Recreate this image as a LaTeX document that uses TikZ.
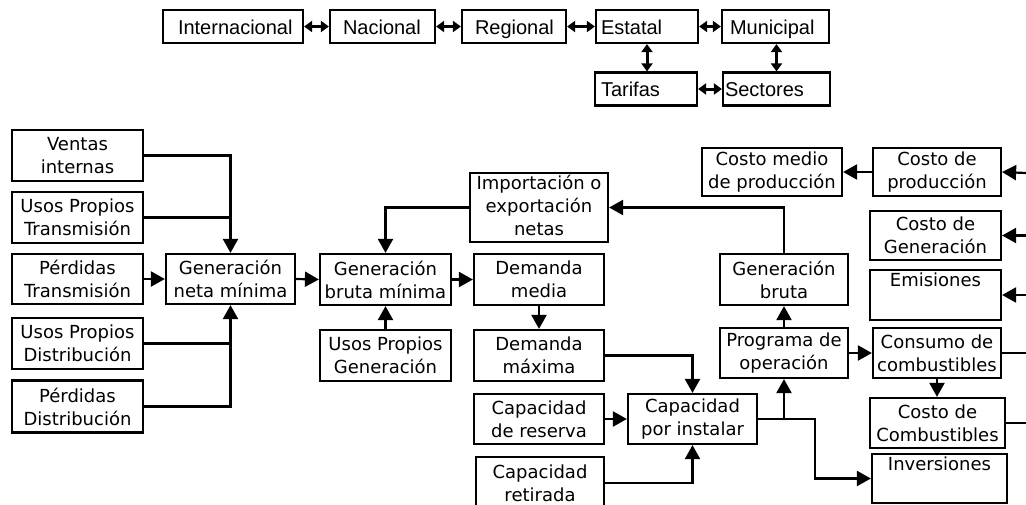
\documentclass[tikz,border=0pt]{standalone}
\usepackage{fontspec}
\newfontfamily\dvfont{DejaVu Sans}
\newfontfamily\libfont{Liberation Sans}
\usetikzlibrary{arrows.meta}
\newcommand{\tbtext}[3]{\makebox[#1][l]{\hspace*{#2}\raisebox{-7.5pt}[0pt][0pt]{#3}}}
\begin{document}
\begin{tikzpicture}[x=1pt,y=-1pt,
 bx/.style={draw, line width=2.2pt, inner sep=0pt, align=center, font=\dvfont\fontsize{18}{23}\selectfont},
 tb/.style={draw, line width=2.2pt, inner sep=0pt, minimum height=33pt, font=\libfont\fontsize{20}{22}\selectfont},
 arr/.style={line width=2.2pt, -{Triangle[length=14pt,width=15pt]}},
 ln/.style={line width=2.2pt},
 dbl/.style={line width=3pt, {Triangle[length=8pt,width=11pt]}-{Triangle[length=8pt,width=11pt]}},
]
\useasboundingbox[fill=white] (0,0) rectangle (1026,504);

% top row
\node[tb] (intl) at (233,26.5) {\tbtext{140pt}{15pt}{Internacional}};
\node[tb] (nac) at (382.5,26.5) {\tbtext{105pt}{13pt}{Nacional}};
\node[tb] (reg) at (514,26.5) {\tbtext{104pt}{13pt}{Regional}};
\node[tb] (est) at (647,26.5) {\tbtext{102pt}{5pt}{Estatal}};
\node[tb] (mun) at (775.5,26.5) {\tbtext{107pt}{8pt}{Municipal}};
\node[tb] (tar) at (646,89) {\tbtext{102pt}{6pt}{Tarifas}};
\node[tb] (sec) at (776.5,89) {\tbtext{107pt}{2pt}{Sectores}};

\draw[dbl] (intl.east) -- (nac.west);
\draw[dbl] (nac.east) -- (reg.west);
\draw[dbl] (reg.east) -- (est.west);
\draw[dbl] (est.east) -- (mun.west);
\draw[dbl] (tar.east) -- (sec.west);
\draw[dbl] (est.south) -- (est.south |- tar.north);
\draw[dbl] (sec.north |- mun.south) -- (sec.north);

% left column
\node[bx, minimum width=131pt, minimum height=51pt] (ven) at (77.5,155.5) {Ventas\\internas};
\node[bx, minimum width=131pt, minimum height=51pt] (upt) at (77.5,217.5) {Usos Propios\\Transmisión};
\node[bx, minimum width=131pt, minimum height=50pt] (pt) at (77.5,279) {Pérdidas\\Transmisión};
\node[bx, minimum width=131pt, minimum height=51pt] (upd) at (77.5,343.5) {Usos Propios\\Distribución};
\node[bx, minimum width=131pt, minimum height=52pt] (pd) at (77.5,406.5) {Pérdidas\\Distribución};
\node[bx, minimum width=129pt, minimum height=50pt] (gnm) at (230.5,279) {Generación\\neta mínima};

\draw[arr] (ven.east) -| (gnm.north);
\draw[ln] (upt.east) -- (upt.east -| gnm.north);
\draw[arr] (pt.east) -- (gnm.west);
\draw[ln] (upd.east) -- (upd.east -| gnm.south);
\draw[arr] (pd.east) -| (gnm.south);

% middle
\node[bx, minimum width=131pt, minimum height=51pt] (gbm) at (385.5,279.5) {Generación\\bruta mínima};
\node[bx, minimum width=131pt, minimum height=51pt] (upg) at (385.5,355.5) {Usos Propios\\Generación};
\node[bx, minimum width=130pt, minimum height=51pt] (dmed) at (539,279.5) {Demanda\\media};
\node[bx, minimum width=130pt, minimum height=51pt] (dmax) at (539,355.5) {Demanda\\máxima};
\node[bx, minimum width=138pt, minimum height=69pt] (imp) at (539,207.5) {\raisebox{-4pt}{\begin{tabular}{@{}c@{}}Importación o\\exportación\\netas\end{tabular}}};
\node[bx, minimum width=130pt, minimum height=50pt] (cres) at (539,419) {Capacidad\\de reserva};
\node[bx, minimum width=129pt, minimum height=50pt] (cpi) at (692.5,419) {Capacidad\\por instalar};
\node[bx, minimum width=128pt, minimum height=52pt] (cret) at (540,483) {Capacidad\\retirada};

\draw[arr] (gnm.east) -- (gbm.west);
\draw[arr] (gbm.east) -- (dmed.west);
\draw[arr] (imp.west) -| (gbm.north);
\draw[arr] (upg.north) -- (gbm.south);
\draw[arr] (dmed.south) -- (dmax.north);
\draw[arr] (dmax.east) -| (cpi.north);
\draw[arr] (cres.east) -- (cpi.west);
\draw[arr] (cret.east) -| (cpi.south);

% right part
\node[bx, minimum width=128pt, minimum height=51pt] (gb) at (784,279.5) {Generación\\bruta};
\node[bx, minimum width=128pt, minimum height=50pt] (prog) at (784,353) {Programa de\\operación};
\node[bx, minimum width=128pt, minimum height=50pt] (cons) at (937,353) {Consumo de\\combustibles};
\node[bx, minimum width=135pt, minimum height=50pt] (ccomb) at (937.5,423) {Costo de\\Combustibles};
\node[bx, minimum width=135pt, minimum height=49pt] (inv) at (939.5,478.5) {Inversiones\\\strut};
\node[bx, minimum width=140pt, minimum height=48pt] (cmp) at (772,172) {Costo medio\\de producción};
\node[bx, minimum width=128pt, minimum height=48pt] (cdp) at (937,172) {Costo de\\producción};
\node[bx, minimum width=131pt, minimum height=49pt] (cdg) at (935.5,235.5) {Costo de\\Generación};
\node[bx, minimum width=131pt, minimum height=50pt] (emi) at (935.5,295) {Emisiones\\\strut};

\coordinate (jinv) at (815,419);
\coordinate (eP) at (1026,173);
\coordinate (eG) at (1026,235.5);
\coordinate (eE) at (1026,295);
\coordinate (eC) at (1026,353);
\coordinate (eK) at (1026,423);

\draw[arr] (cpi.east) -| (prog.south);
\draw[arr] (cpi.east) -- (jinv) |- (inv.west);
\draw[arr] (prog.north) -- (gb.south);
\draw[arr] (gb.north) |- (imp.east);
\draw[arr] (prog.east) -- (cons.west);
\draw[arr] (cons.south) -- (cons.south |- ccomb.north);
\draw[ln] (cons.east) -- (eC);
\draw[ln] (ccomb.east) -- (eK);
\draw[arr] (eP) -- (cdp.east);
\draw[arr] (cdp.west) -- (cmp.east);
\draw[arr] (eG) -- (cdg.east);
\draw[arr] (eE) -- (emi.east);
\end{tikzpicture}
\end{document}
